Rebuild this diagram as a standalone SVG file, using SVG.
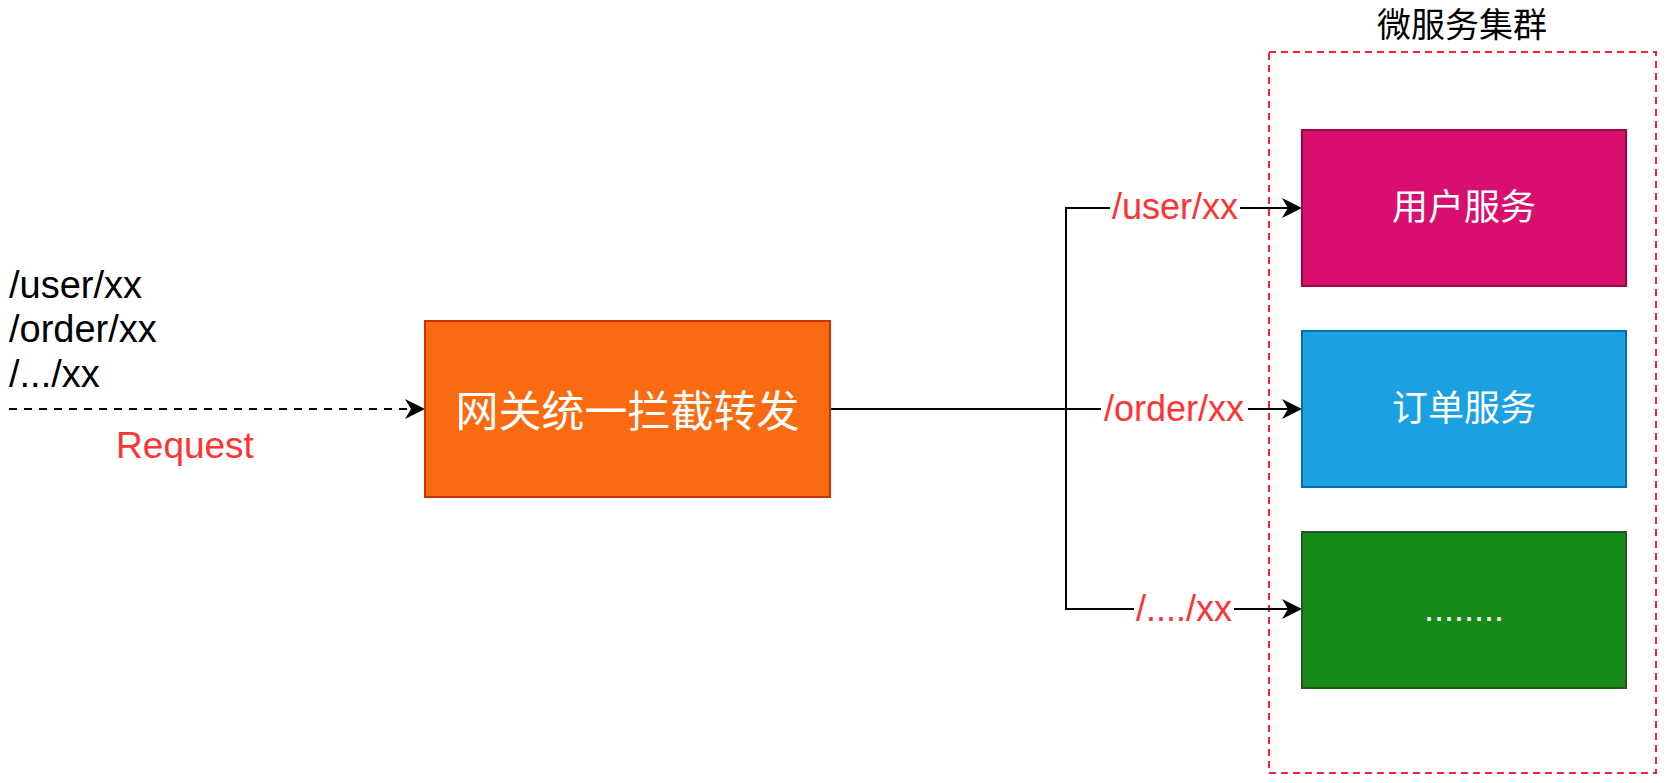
<svg xmlns="http://www.w3.org/2000/svg" width="1667" height="783" viewBox="0 0 1667 783">
<style>
.lat{font-family:"Liberation Sans",Arial,Helvetica,sans-serif}
.cjk{font-family:"Noto Sans CJK SC","Liberation Sans",sans-serif;text-anchor:middle;fill:#ffffff}
.red{fill:#ff3333}
.conn{fill:none;stroke:#000;stroke-width:2}
.lblbg{fill:#ffffff}
</style>
<defs>
<marker id="arr" markerUnits="userSpaceOnUse" viewBox="0 0 20 20" refX="10" refY="10" markerWidth="20" markerHeight="20" orient="auto">
<path d="M0,0 L20,10 L0,20 L6,10 Z" fill="#000"/>
</marker>
</defs>
<rect width="1667" height="783" fill="#ffffff"/>

<g id="cluster">
<rect x="1269" y="52" width="387" height="721" fill="none" stroke="#ff1f2f" stroke-width="2" stroke-dasharray="7 5"/>
<text x="1462" y="37" font-size="34" text-anchor="middle" class="cjk" style="fill:#000">微服务集群</text>
</g>

<g id="request-text">
<text class="lat" x="9" y="298" font-size="38" fill="#000">/user/xx</text>
<text class="lat" x="9" y="342" font-size="38" fill="#000">/order/xx</text>
<text class="lat" x="9" y="387" font-size="38" fill="#000">/.../xx</text>
<text class="lat red" x="185" y="458" font-size="37" text-anchor="middle">Request</text>
</g>

<g id="connectors">
<path class="conn" d="M9,409 H415" stroke-dasharray="8 7" marker-end="url(#arr)"/>
<path class="conn" d="M830,409 H1292" marker-end="url(#arr)"/>
<path class="conn" d="M1066,409 V208 H1292" marker-end="url(#arr)"/>
<path class="conn" d="M1066,409 V609 H1292" marker-end="url(#arr)"/>
<rect class="lblbg" x="1110" y="190" width="130" height="36"/>
<text class="lat red" x="1175" y="219" font-size="36" text-anchor="middle">/user/xx</text>
<rect class="lblbg" x="1101" y="391" width="147" height="36"/>
<text class="lat red" x="1174" y="421" font-size="36" text-anchor="middle">/order/xx</text>
<rect class="lblbg" x="1134" y="591" width="100" height="36"/>
<text class="lat red" x="1184" y="621" font-size="36" text-anchor="middle">/..../xx</text>
</g>

<g id="gateway">
<rect x="425" y="321" width="405" height="176" fill="#fa6a10" stroke="#c73500" stroke-width="2"/>
<text class="cjk" x="627.5" y="427" font-size="43">网关统一拦截转发</text>
</g>

<g id="user-service">
<rect x="1302" y="130" width="324" height="156" fill="#d80f6f" stroke="#a50040" stroke-width="2"/>
<text class="cjk" x="1464" y="220" font-size="36">用户服务</text>
</g>

<g id="order-service">
<rect x="1302" y="331" width="324" height="156" fill="#1ba1e2" stroke="#006eaf" stroke-width="2"/>
<text class="cjk" x="1464" y="421" font-size="36">订单服务</text>
</g>

<g id="other-service">
<rect x="1302" y="532" width="324" height="156" fill="#178a18" stroke="#1e5c1e" stroke-width="2"/>
<text class="lat" x="1464" y="621" font-size="36" text-anchor="middle" fill="#ffffff">........</text>
</g>
</svg>
